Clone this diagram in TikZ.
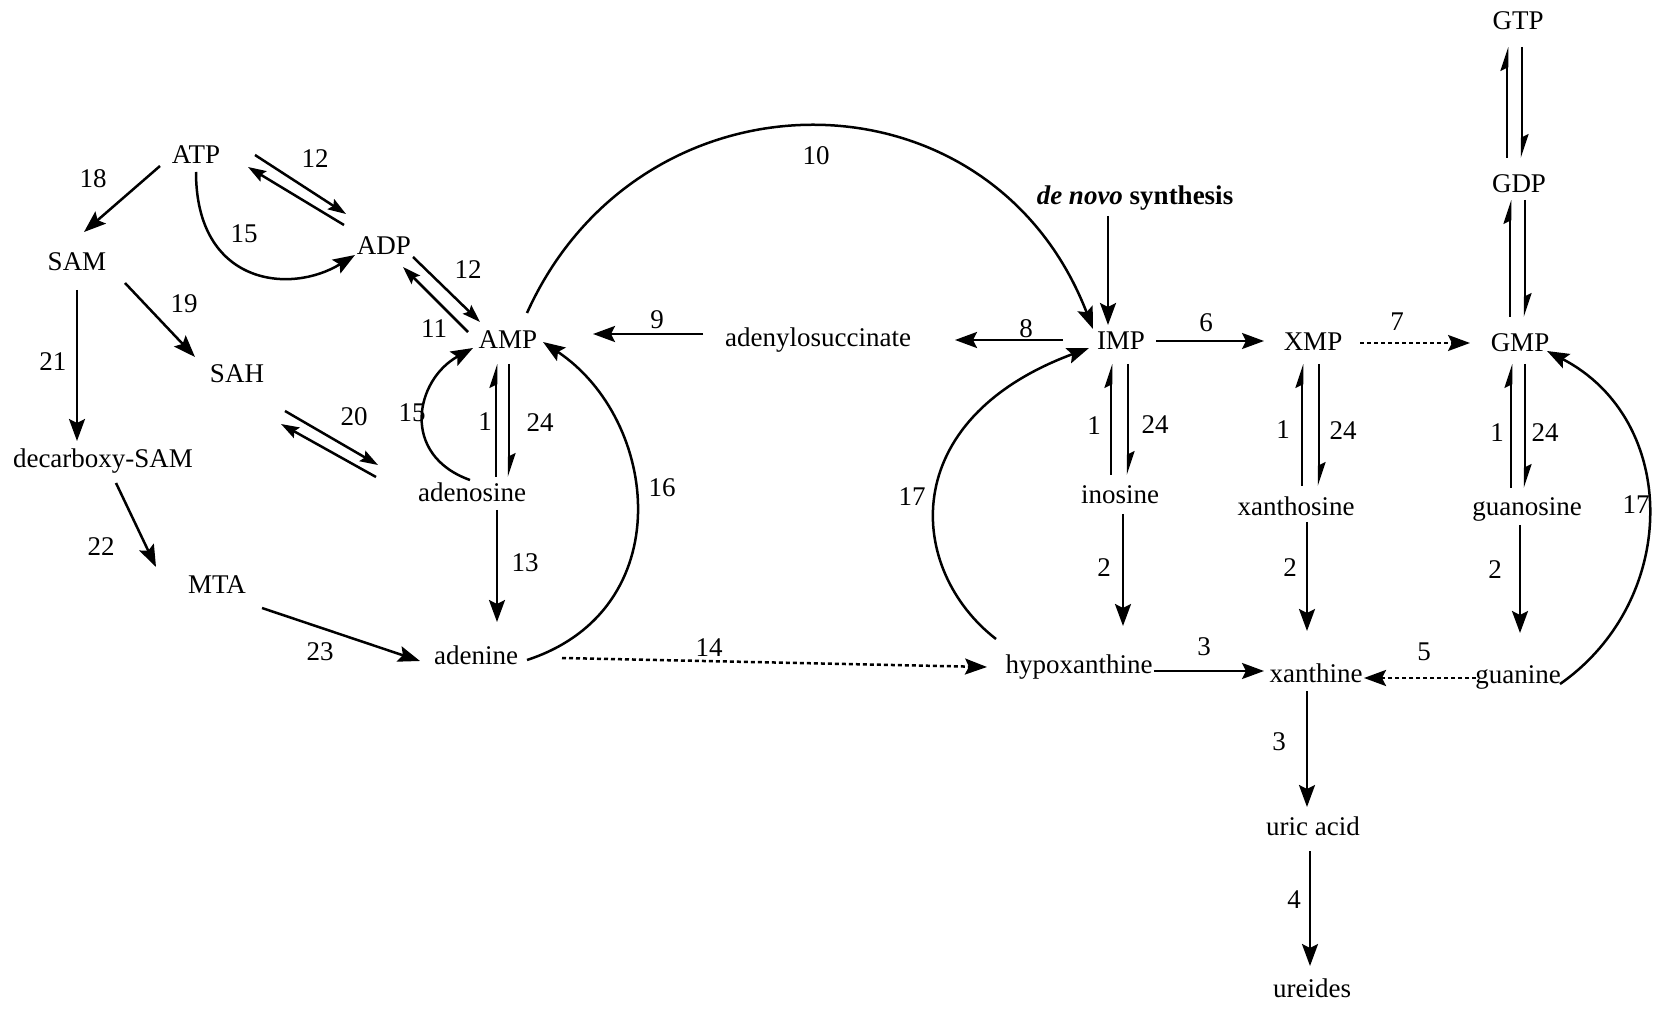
\documentclass[tikz,border=0pt]{standalone}
\usepackage{fontspec}
\setmainfont{Liberation Serif}
\usetikzlibrary{arrows.meta,calc}

\begin{document}
\begin{tikzpicture}[x=0.5pt,y=-0.5pt,
  mol/.style={inner sep=0pt,font=\fontsize{13.5}{16}\selectfont},
  num/.style={inner sep=0pt,font=\fontsize{13.5}{16}\selectfont},
  link/.style={line width=1.25pt,-{Stealth[length=11pt,width=8pt,inset=2pt]}},
  half/.style={line width=1.25pt,-{Stealth[left,length=10pt,width=6.5pt,inset=1.5pt]}},
  slim/.style={line width=1.25pt,-{Stealth[length=9pt,width=6pt,inset=1.5pt]}},
  dashlink/.style={link,dash pattern=on 2pt off 1.5pt},
]
\useasboundingbox (0,0) rectangle (1655,1010);

% metabolites
\node[mol] (ATP)  at (196,155) {ATP};
\node[mol] (ADP)  at (384,246) {ADP};
\node[mol] (SAM)  at (77,262)  {SAM};
\node[mol] (SAH)  at (237,374) {SAH};
\node[mol] (dSAM) at (103,461) {decarboxy-SAM};
\node[mol] (MTA)  at (217,585) {MTA};
\node[mol] (AMP)  at (508,340) {AMP};
\node[mol] (ados) at (472,492) {adenosine};
\node[mol] (aden) at (476,655) {adenine};
\node[mol] (asuc) at (818,340) {adenylosuccinate};
\node[mol] (denovo) at (1135,198) {\textbf{\textit{de novo}} \textbf{synthesis}};
\node[mol] (IMP)  at (1121,341) {IMP};
\node[mol] (XMP)  at (1313,342) {XMP};
\node[mol] (GMP)  at (1520,343) {GMP};
\node[mol] (GDP)  at (1519,184) {GDP};
\node[mol] (GTP)  at (1518,21)  {GTP};
\node[mol] (ino)  at (1120,495) {inosine};
\node[mol] (xao)  at (1296,506) {xanthosine};
\node[mol] (guo)  at (1527,509) {guanosine};
\node[mol] (hx)   at (1079,667) {hypoxanthine};
\node[mol] (xan)  at (1316,673) {xanthine};
\node[mol] (gua)  at (1518,677) {guanine};
\node[mol] (uric) at (1313,826) {uric acid};
\node[mol] (ure)  at (1312,988) {ureides};

% adenylate branch
\draw[link] ($(ATP)+(-36,11)$) -- ($(SAM)+(7,-30)$);
\draw[slim] ($(ATP)+(59,0)$) -- ($(ADP)+(-38,-32)$);
\draw[slim] ($(ADP)+(-40,-21)$) -- ($(ATP)+(52,12)$);
\draw[link] ($(ATP)+(0,17)$) .. controls ($(ATP)+(0,130)$) and ($(ADP)+(-94,49)$) .. ($(ADP)+(-29,9)$);
\draw[slim] ($(ADP)+(29,11)$) -- ($(AMP)+(-28,-18)$);
\draw[slim] ($(AMP)+(-40,-8)$) -- ($(ADP)+(19,21)$);
\draw[link] ($(SAM)+(48,21)$) -- ($(SAH)+(-42,-17)$);
\draw[link] ($(SAM)+(0,28)$) -- ($(dSAM)+(-26,-20)$);
\draw[link] ($(dSAM)+(13,22)$) -- ($(MTA)+(-61,-18)$);
\draw[link] ($(MTA)+(45,23)$) -- ($(aden)+(-56,6)$);
\draw[slim] ($(SAH)+(48,37)$) -- ($(ados)+(-94,-27)$);
\draw[slim] ($(ados)+(-96,-15)$) -- ($(SAH)+(44,50)$);
\draw[half] ($(ados)+(24,-15)$) -- ($(AMP)+(-12,24)$);
\draw[half] ($(AMP)+(1,24)$) -- ($(ados)+(37,-15)$);
\draw[link] ($(ados)+(-2,-12)$) .. controls ($(ados)+(-72,-37)$) and ($(ados)+(-57,-112)$) .. ($(AMP)+(-35,8)$);
\draw[link] ($(ados)+(25,18)$) -- ($(aden)+(21,-33)$);
\draw[link] ($(aden)+(51,5)$) .. controls ($(aden)+(204,-45)$) and ($(aden)+(184,-235)$) .. ($(AMP)+(35,2)$);
\draw[link] ($(AMP)+(19,-27)$) .. controls ($(AMP)+(132,-278)$) and ($(IMP)+(-131,-279)$) .. ($(IMP)+(-28,-12)$);
\draw[link] ($(asuc)+(-115,-6)$) -- ($(AMP)+(85,-6)$);
\draw[link] ($(IMP)+(-58,-1)$) -- ($(asuc)+(137,0)$);
\draw[dashlink] ($(aden)+(86,3)$) -- ($(hx)+(-92,0)$);

% inosinate / guanylate branch
\draw[link] ($(denovo)+(-27,18)$) -- ($(IMP)+(-13,-16)$);
\draw[link] ($(IMP)+(35,0)$) -- ($(XMP)+(-49,-1)$);
\draw[dashlink] ($(XMP)+(47,1)$) -- ($(GMP)+(-50,0)$);
\draw[half] ($(GDP)+(-12,-26)$) -- ($(GTP)+(-11,26)$);
\draw[half] ($(GTP)+(4,26)$) -- ($(GDP)+(3,-26)$);
\draw[half] ($(GMP)+(-10,-26)$) -- ($(GDP)+(-9,16)$);
\draw[half] ($(GDP)+(6,16)$) -- ($(GMP)+(5,-26)$);
\draw[half] ($(ino)+(-9,-20)$) -- ($(IMP)+(-10,23)$);
\draw[half] ($(IMP)+(7,23)$) -- ($(ino)+(8,-20)$);
\draw[half] ($(xao)+(6,-20)$) -- ($(XMP)+(-11,22)$);
\draw[half] ($(XMP)+(6,22)$) -- ($(xao)+(23,-20)$);
\draw[half] ($(guo)+(-16,-21)$) -- ($(GMP)+(-9,21)$);
\draw[half] ($(GMP)+(5,21)$) -- ($(guo)+(-2,-21)$);
\draw[link] ($(ino)+(3,19)$) -- ($(hx)+(44,-41)$);
\draw[link] ($(xao)+(11,16)$) -- ($(xan)+(-9,-42)$);
\draw[link] ($(guo)+(-7,16)$) -- ($(gua)+(2,-44)$);
\draw[link] ($(hx)+(75,4)$) -- ($(xan)+(-52,-2)$);
\draw[dashlink] ($(gua)+(-42,1)$) -- ($(xan)+(48,5)$);
\draw[link] ($(xan)+(-9,18)$) -- ($(uric)+(-6,-19)$);
\draw[link] ($(uric)+(-3,25)$) -- ($(ure)+(-2,-22)$);
\draw[link] ($(hx)+(-83,-28)$) .. controls ($(hx)+(-172,-97)$) and ($(hx)+(-184,-247)$) .. ($(IMP)+(-32,7)$);
\draw[link] ($(gua)+(42,7)$) .. controls ($(gua)+(162,-77)$) and ($(gua)+(162,-257)$) .. ($(GMP)+(27,8)$);

% enzyme numbers
\node[num] (n18)  at (93,179)  {18};
\node[num] (n12a) at (315,159) {12};
\node[num] (n15a) at (244,234) {15};
\node[num] (n12b) at (468,270) {12};
\node[num] (n11)  at (434,329) {11};
\node[num] (n19)  at (184,304) {19};
\node[num] (n21)  at (53,362)  {21};
\node[num] (n20)  at (354,417) {20};
\node[num] (n15b) at (412,413) {15};
\node[num] (n1a)  at (485,422) {1};
\node[num] (n24a) at (540,423) {24};
\node[num] (n22)  at (101,547) {22};
\node[num] (n13)  at (525,563) {13};
\node[num] (n16)  at (662,488) {16};
\node[num] (n23)  at (320,652) {23};
\node[num] (n10)  at (816,156) {10};
\node[num] (n9)   at (657,320) {9};
\node[num] (n8)   at (1026,329) {8};
\node[num] (n6)   at (1206,323) {6};
\node[num] (n7)   at (1397,322) {7};
\node[num] (n1b)  at (1094,426) {1};
\node[num] (n24b) at (1155,425) {24};
\node[num] (n1c)  at (1283,430) {1};
\node[num] (n24c) at (1343,431) {24};
\node[num] (n1d)  at (1497,433) {1};
\node[num] (n24d) at (1545,433) {24};
\node[num] (n17a) at (912,497) {17};
\node[num] (n17b) at (1636,505) {17};
\node[num] (n2a)  at (1104,568) {2};
\node[num] (n2b)  at (1290,568) {2};
\node[num] (n2c)  at (1495,570) {2};
\node[num] (n3a)  at (1204,647) {3};
\node[num] (n5)   at (1424,652) {5};
\node[num] (n3b)  at (1279,742) {3};
\node[num] (n4)   at (1294,900) {4};
\node[num] (n14)  at (709,648) {14};
\end{tikzpicture}
\end{document}
